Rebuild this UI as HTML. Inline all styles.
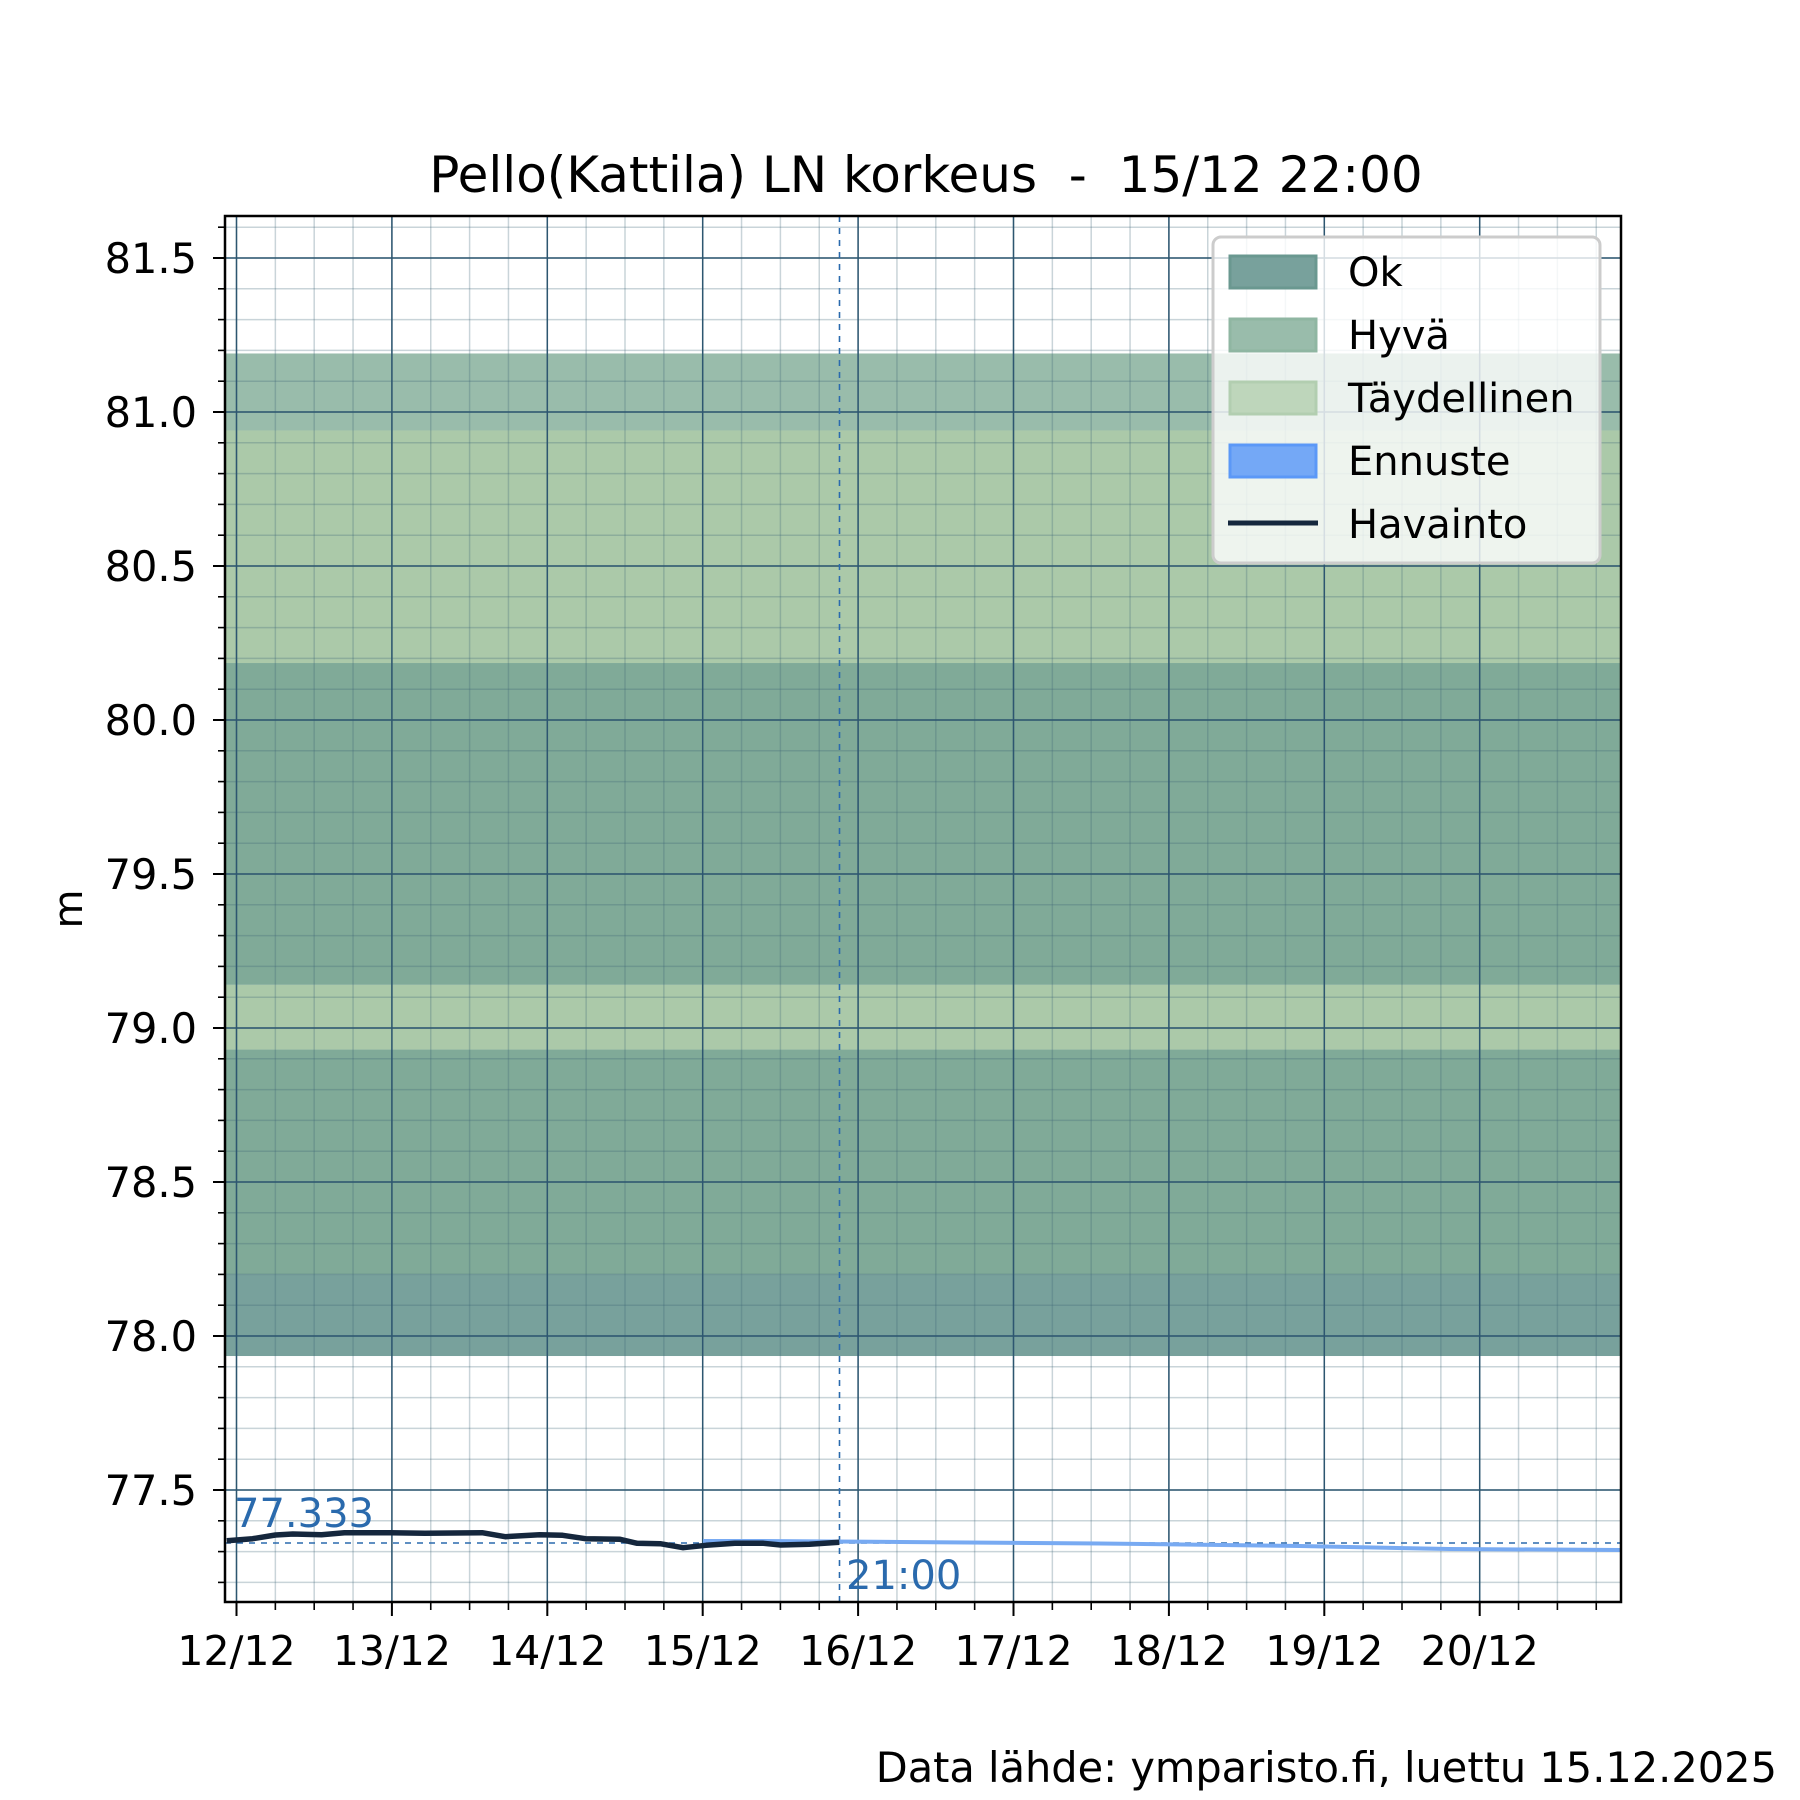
<!DOCTYPE html>
<html><head><meta charset="utf-8"><style>
html,body{margin:0;padding:0;background:#fff;}
svg{display:block;font-family:"DejaVu Sans","Liberation Sans",sans-serif;}
text{white-space:pre;}
</style></head><body>
<svg id="s" width="1800" height="1800" xmlns="http://www.w3.org/2000/svg" xml:space="preserve">
<rect width="1800" height="1800" fill="#fff"/>
<g id="bands"></g>
<g id="grid"></g>
<g id="data"></g>
<g id="axes"></g>
<text x="926" y="192" font-size="50" text-anchor="middle">Pello(Kattila) LN korkeus  -  15/12 22:00</text>
<text x="1777" y="1782" font-size="41.5" text-anchor="end">Data lähde: ymparisto.fi, luettu 15.12.2025</text>
<text transform="translate(82,909) rotate(-90)" font-size="40" text-anchor="middle">m</text>
<g id="legend">
<rect x="1213" y="237" width="387" height="326" rx="8" fill="rgba(255,255,255,0.8)" stroke="#ccc" stroke-width="3"/>
<rect x="1230" y="256" width="86" height="32" fill="#78a19c" stroke="#6a9890" stroke-width="3"/>
<text x="1348" y="286" font-size="40">Ok</text>
<rect x="1230" y="319" width="86" height="32" fill="#99bcab" stroke="#8fb6a2" stroke-width="3"/>
<text x="1348" y="349" font-size="40">Hyvä</text>
<rect x="1230" y="382" width="86" height="32" fill="#bed6bb" stroke="#b2ceb0" stroke-width="3"/>
<text x="1348" y="412" font-size="40">Täydellinen</text>
<rect x="1230" y="445" width="86" height="32" fill="#74a8f6" stroke="#5b98f7" stroke-width="3"/>
<text x="1348" y="475" font-size="40">Ennuste</text>
<line x1="1228" y1="523" x2="1318" y2="523" stroke="#15273d" stroke-width="5"/>
<text x="1348" y="538" font-size="40">Havainto</text>
</g>
</svg>
<script>
var NS="http://www.w3.org/2000/svg";
function el(p,t,a,txt){var e=document.createElementNS(NS,t);for(var k in a)e.setAttribute(k,a[k]);if(txt!==undefined)e.textContent=txt;document.getElementById(p).appendChild(e);return e;}
var L=225,R=1621,T=216,B=1602;
function X(d){return 236.5+d*155.4;}
function Y(v){return 720+(80-v)*308;}
var bands=[[81.19,80.94,"#99bcab"],[80.94,80.185,"#abc9a9"],[80.185,79.14,"#80aa98"],[79.14,78.93,"#abc9a9"],[78.93,78.2,"#80aa98"],[78.2,77.935,"#78a19c"]];
bands.forEach(function(b){el("bands","rect",{x:L,y:Y(b[0]),width:R-L,height:Y(b[1])-Y(b[0]),fill:b[2]});});
for(var v=77.2;v<81.65;v+=0.1){var y=Y(v);if(y<T||y>B)continue;el("grid","line",{x1:L,x2:R,y1:y,y2:y,stroke:"rgba(60,100,120,0.28)","stroke-width":1.5});}
for(var d=-0.25;d<9;d+=0.25){var x=X(d);if(x<L||x>R)continue;el("grid","line",{x1:x,x2:x,y1:T,y2:B,stroke:"rgba(60,100,120,0.28)","stroke-width":1.5});}
for(var i=0;i<9;i++){var y=Y(77.5+i*0.5);el("grid","line",{x1:L,x2:R,y1:y,y2:y,stroke:"#2d5670","stroke-width":1.5});}
for(var d=0;d<9;d++){var x=X(d);el("grid","line",{x1:x,x2:x,y1:T,y2:B,stroke:"#2d5670","stroke-width":1.5});}
el("data","line",{x1:L,x2:R,y1:1543,y2:1543,stroke:"#2a6aad","stroke-width":1.6,"stroke-dasharray":"6,6"});
el("data","line",{x1:839.5,x2:839.5,y1:T,y2:B,stroke:"#2a6aad","stroke-width":1.6,"stroke-dasharray":"6,6"});
el("data","polyline",{points:"703,1541 760,1541 900,1542 1100,1543.5 1300,1546 1450,1549 1621,1550",fill:"none",stroke:"#78aaf2","stroke-width":4});
el("data","polyline",{points:"226.8,1540.7 252.6,1538.7 275.5,1535 292.8,1534 321.5,1534.7 344.4,1532.7 390.4,1532.7 424.8,1533.3 482.2,1532.7 505.2,1536.7 539.6,1534.7 562.6,1535.3 585.5,1538.7 620,1539.3 637.2,1543.3 660.2,1543.7 683.1,1547.7 706.1,1545.3 734.8,1543.3 763.5,1543.3 780.7,1545 809.4,1544.3 839.3,1542.3",fill:"none",stroke:"#15273d","stroke-width":5.5,"stroke-linejoin":"round"});
el("data","text",{x:234,y:1527,"font-size":40,fill:"#2a6aad"},"77.333");
el("data","text",{x:846,y:1589,"font-size":40,fill:"#2a6aad"},"21:00");
el("axes","rect",{x:L,y:T,width:R-L,height:B-T,fill:"none",stroke:"#000","stroke-width":2.5});
for(var v=77.2;v<81.65;v+=0.1){var y=Y(v);if(y<T||y>B)continue;el("axes","line",{x1:L-7,x2:L,y1:y,y2:y,stroke:"#000","stroke-width":1.6});}
for(var i=0;i<9;i++){var v=77.5+i*0.5,y=Y(v);el("axes","line",{x1:L-12,x2:L,y1:y,y2:y,stroke:"#000","stroke-width":2});el("axes","text",{x:197,y:y+15,"font-size":41.5,"text-anchor":"end"},v.toFixed(1));}
for(var d=-0.25;d<9;d+=0.25){var x=X(d);if(x<L||x>R)continue;el("axes","line",{x1:x,x2:x,y1:B,y2:B+8,stroke:"#000","stroke-width":1.6});}
for(var d=0;d<9;d++){var x=X(d);el("axes","line",{x1:x,x2:x,y1:B,y2:B+14,stroke:"#000","stroke-width":2});el("axes","text",{x:x,y:1665,"font-size":41,"text-anchor":"middle"},(12+d)+"/12");}
</script>
</body></html>
